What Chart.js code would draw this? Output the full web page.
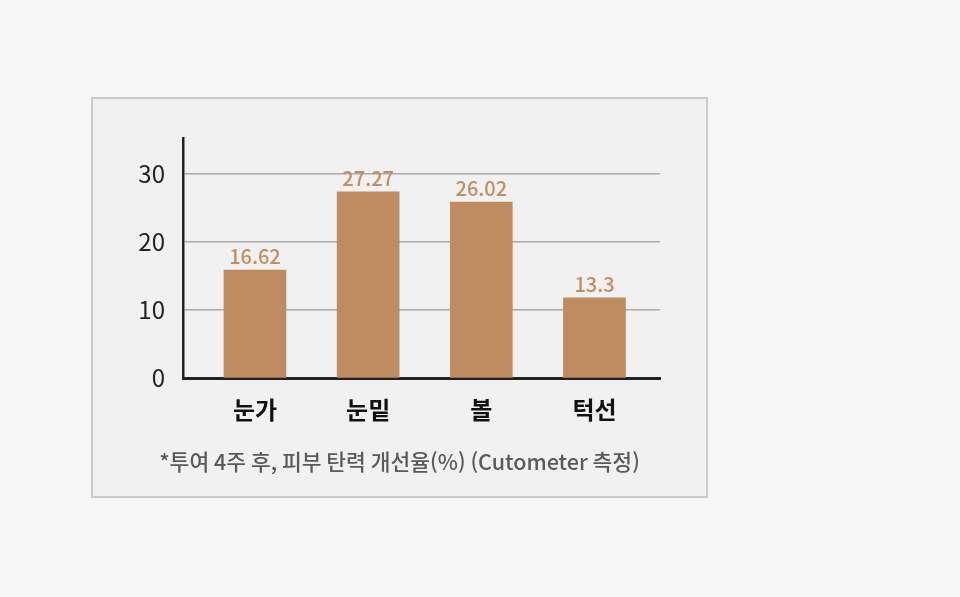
<!DOCTYPE html>
<html lang="ko">
<head>
<meta charset="utf-8">
<script src="https://cdn.jsdelivr.net/npm/chart.js@4.4.1/dist/chart.umd.min.js"></script>
<style>
  html, body { margin: 0; padding: 0; background: #f6f6f6; }
  #box { position: absolute; left: 91px; top: 97px; width: 613px; height: 397px;
         border: 2px solid #cbcbcb; background: #f1f1f1; }
  #c { position: absolute; left: 0; top: 0; }
</style>
</head>
<body>
<div id="box"></div>
<canvas id="c" width="960" height="597"></canvas>
<script>
const categories = ['눈가', '눈밑', '볼', '턱선'];
const barValues = [15.9, 27.4, 25.9, 11.8];
const valueLabels = ['16.62', '27.27', '26.02', '13.3'];
const yTicks = [0, 10, 20, 30];
const footnote = '*투여 4주 후, 피부 탄력 개선율(%) (Cutometer 측정)';

const FONT = "'Noto Sans CJK KR', 'Noto Sans', sans-serif";

const valueLabelPlugin = {
  id: 'valueLabels',
  afterDatasetsDraw(chart) {
    const ctx = chart.ctx;
    const meta = chart.getDatasetMeta(0);
    ctx.save();
    ctx.font = '500 20px ' + FONT;
    ctx.fillStyle = '#c38d62';
    ctx.textAlign = 'center';
    ctx.textBaseline = 'alphabetic';
    meta.data.forEach((bar, i) => {
      ctx.fillText(valueLabels[i], bar.x, bar.y - 6);
    });
    ctx.restore();
  }
};

new Chart(document.getElementById('c'), {
  type: 'bar',
  data: {
    datasets: [{
      data: barValues.map((v, i) => ({ x: i, y: v })),
      backgroundColor: '#bf8b60',
      barThickness: 62
    }]
  },
  options: {
    responsive: false,
    animation: false,
    devicePixelRatio: 1,
    layout: { padding: { left: 91, right: 252, top: 138, bottom: 99 } },
    plugins: {
      legend: { display: false },
      tooltip: { enabled: false },
      title: {
        display: true,
        position: 'bottom',
        text: footnote,
        color: '#5a5a5a',
        font: { family: FONT, size: 21.5, weight: '500' },
        padding: { top: 0, bottom: 23 }
      }
    },
    scales: {
      x: {
        type: 'linear',
        offset: false,
        min: -0.636,
        max: 3.579,
        afterBuildTicks: s => { s.ticks = [0, 1, 2, 3].map(v => ({ value: v })); },
        afterFit: s => { s.height = 71; },
        grid: { display: false, drawTicks: false, offset: false },
        border: { display: true, color: '#222', width: 3 },
        ticks: {
          callback: v => categories[v],
          color: '#111',
          font: { family: FONT, size: 24, weight: 'bold' },
          padding: 17,
          maxRotation: 0
        }
      },
      y: {
        min: 0,
        max: 35.3,
        afterBuildTicks: s => { s.ticks = yTicks.map(v => ({ value: v })); },
        afterFit: s => { s.width = 92; },
        grid: {
          drawTicks: false,
          color: ctx => (ctx.tick && ctx.tick.value === 0) ? 'rgba(0,0,0,0)' : '#aaaaaa',
          lineWidth: 1.5
        },
        border: { display: true, color: '#222', width: 2.5 },
        ticks: {
          color: '#222',
          font: { family: FONT, size: 24 },
          padding: 18
        }
      },
      y2: {
        position: 'right',
        display: true,
        afterFit: s => { s.width = 48; },
        grid: { display: false, drawTicks: false },
        border: { display: false },
        ticks: { display: false }
      }
    }
  },
  plugins: [valueLabelPlugin]
});
</script>
</body>
</html>
